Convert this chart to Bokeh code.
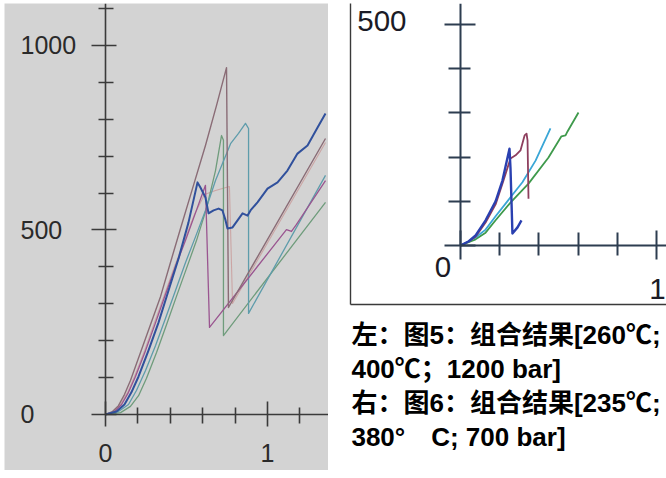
from bokeh.plotting import figure
from bokeh.models import LinearAxis, FixedTicker, Range1d, Spacer
from bokeh.layouts import column, row
from bokeh.embed import file_html
from bokeh.resources import INLINE
from bokeh.core.properties import value

# ---------------- data: left chart (Fig. 5) ----------------
L_mauve_x = [0, 0.043, 0.080, 0.117, 0.154, 0.216, 0.278, 0.340, 0.401, 0.463, 0.537, 0.617, 0.685, 0.747, 0.759, 1.358]
L_mauve_y = [0, 8, 24, 54, 92, 168, 244, 320, 412, 504, 612, 729, 837, 940, 290, 748]

L_salmon_x = [0, 0.049, 0.093, 0.136, 0.179, 0.241, 0.302, 0.364, 0.426, 0.488, 0.549, 0.611, 0.679, 0.765, 0.784, 1.358]
L_salmon_y = [0, 8, 27, 60, 103, 173, 249, 325, 401, 472, 542, 596, 607, 618, 301, 737]

L_magenta_x = [0, 0.056, 0.099, 0.142, 0.185, 0.247, 0.309, 0.370, 0.432, 0.494, 0.556, 0.617, 0.642, 1.117, 1.148, 1.179, 1.358]
L_magenta_y = [0, 8, 27, 60, 103, 173, 249, 325, 401, 472, 547, 621, 236, 501, 496, 515, 634]

L_blue_x = [0, 0.068, 0.117, 0.160, 0.204, 0.265, 0.327, 0.389, 0.451, 0.512, 0.568, 0.586, 0.617, 0.636,
            0.667, 0.698, 0.722, 0.741, 0.753, 0.784, 0.815, 0.846, 0.877, 0.895, 0.938, 1.000, 1.062,
            1.123, 1.185, 1.247, 1.309, 1.358]
L_blue_y = [0, 8, 27, 60, 103, 173, 249, 336, 423, 520, 629, 615, 588, 545,
            553, 558, 553, 526, 504, 507, 526, 545, 539, 553, 575, 612, 629,
            661, 707, 729, 778, 816]

L_teal_x = [0, 0.080, 0.142, 0.191, 0.247, 0.309, 0.370, 0.432, 0.494, 0.556, 0.617, 0.679, 0.772, 0.821, 0.864, 0.883, 0.883, 1.358]
L_teal_y = [0, 8, 27, 65, 119, 187, 260, 336, 412, 482, 553, 634, 734, 762, 789, 775, 274, 648]

L_green_x = [0, 0.093, 0.154, 0.204, 0.253, 0.315, 0.377, 0.438, 0.500, 0.562, 0.623, 0.679, 0.716, 0.728, 0.728, 1.358]
L_green_y = [0, 5, 22, 51, 98, 168, 244, 320, 396, 472, 558, 661, 756, 743, 214, 575]

L_xticks_major = [0, 1]
L_xticks_minor = [0.2, 0.4, 0.6, 0.8, 1.2]
L_xtick_labels = ["0", "1"]
L_yticks_major = [0, 500, 1000]
L_yticks_minor = [100, 200, 300, 400, 600, 700, 800, 900, 1100]
L_ytick_labels = ["0", "500", "1000"]

# ---------------- data: right chart (Fig. 6) ----------------
R_blue_x = [0, 0.041, 0.077, 0.128, 0.179, 0.214, 0.240, 0.250, 0.255, 0.260, 0.265, 0.291, 0.311]
R_blue_y = [0, 9, 23, 57, 100, 147, 199, 219, 176, 102, 27, 41, 57]

R_mauve_x = [0, 0.041, 0.077, 0.128, 0.179, 0.214, 0.255, 0.281, 0.306, 0.327, 0.337, 0.342, 0.347]
R_mauve_y = [0, 9, 20, 52, 93, 140, 197, 204, 215, 249, 253, 238, 106]

R_cyan_x = [0, 0.077, 0.128, 0.179, 0.255, 0.316, 0.383, 0.459]
R_cyan_y = [0, 18, 36, 66, 109, 143, 192, 265]

R_green_x = [0, 0.077, 0.128, 0.179, 0.255, 0.347, 0.449, 0.515, 0.536, 0.546, 0.602]
R_green_y = [0, 14, 29, 57, 97, 140, 199, 247, 249, 258, 301]

R_xticks_major = [0, 1]
R_xticks_minor = [0.2, 0.4, 0.6, 0.8]
R_yticks_major = [0, 500]
R_yticks_minor = [100, 200, 300, 400]
R_origin_label = "0"
R_ytick_label = "500"
R_xtick_label = "1"

caption_lines = [
    "左：图5：组合结果[260℃;",
    "400℃；1200 bar]",
    "右：图6：组合结果[235℃;",
    "380°\u3000C; 700 bar]",
]

LATIN = "Liberation Sans"
CAPTION_FONT = "Liberation Sans, Noto Sans CJK SC"


def add_center_axes(p, xend, yend, xt, xmt, yt, ymt, color, lw,
                    x_in, x_out, xm_in, xm_out, y_in, y_out, ym_in, ym_out):
    xa = LinearAxis(fixed_location=0, bounds=(0, xend),
                    ticker=FixedTicker(ticks=xt, minor_ticks=xmt))
    ya = LinearAxis(fixed_location=0, bounds=(0, yend),
                    ticker=FixedTicker(ticks=yt, minor_ticks=ymt))
    for a, (ti, to, mi, mo) in ((xa, (x_in, x_out, xm_in, xm_out)),
                                (ya, (y_in, y_out, ym_in, ym_out))):
        a.axis_line_color = color
        a.axis_line_width = lw
        a.major_tick_line_color = color
        a.major_tick_line_width = lw
        a.minor_tick_line_color = color
        a.minor_tick_line_width = lw
        a.major_tick_in = ti
        a.major_tick_out = to
        a.minor_tick_in = mi
        a.minor_tick_out = mo
        a.major_label_text_color = None
        a.major_label_standoff = 0
    p.add_layout(xa, "below")
    p.add_layout(ya, "left")


# ---------------- top strip ----------------
strip = figure(width=666, height=3, output_backend="svg", toolbar_location=None,
               x_axis_location=None, y_axis_location=None, min_border=0,
               background_fill_color="#2c5a88", border_fill_color="#2c5a88",
               outline_line_color=None)
strip.grid.visible = False

# ---------------- left figure ----------------
L_XEND, L_YEND = 1.3765, 1113.8
pL = figure(width=324, height=467, output_backend="svg", toolbar_location=None,
            x_range=Range1d(-0.6235, L_XEND), y_range=Range1d(-151.8, L_YEND),
            x_axis_location=None, y_axis_location=None, min_border=0,
            background_fill_color="#d3d3d3", border_fill_color="#d3d3d3",
            outline_line_color=None)
pL.grid.visible = False
add_center_axes(pL, L_XEND, L_YEND, L_xticks_major, L_xticks_minor,
                L_yticks_major, L_yticks_minor, "#3a3a3a", 1.6,
                13, 12, 7, 9, 11, 14, 8, 7)

pL.line(L_salmon_x, L_salmon_y, line_color="#c99a98", line_width=1.1, line_alpha=0.8, line_join="round")
pL.line(L_green_x, L_green_y, line_color="#6f9c7c", line_width=1.3, line_join="round")
pL.line(L_teal_x, L_teal_y, line_color="#5e9cab", line_width=1.3, line_join="round")
pL.line(L_magenta_x, L_magenta_y, line_color="#9a5590", line_width=1.3, line_join="round")
pL.line(L_mauve_x, L_mauve_y, line_color="#8a6c76", line_width=1.4, line_join="round")
pL.line(L_blue_x, L_blue_y, line_color="#30509c", line_width=2.0, line_join="round")

pL.text(x=[0] * len(L_yticks_major), y=L_yticks_major, text=L_ytick_labels,
        x_offset=-85, text_align="left", text_baseline="middle",
        text_font=value(LATIN), text_font_size="25px", text_color="#2a2a2a")
pL.text(x=L_xticks_major, y=[0] * len(L_xticks_major), text=L_xtick_labels,
        y_offset=38.5, text_align="center", text_baseline="middle",
        text_font=value(LATIN), text_font_size="25px", text_color="#2a2a2a")

# ---------------- right figure ----------------
R_XEND, R_YEND = 1.051, 547.5
pR = figure(width=338, height=303, output_backend="svg", toolbar_location=None,
            x_range=Range1d(-0.5612, R_XEND), y_range=Range1d(-133.5, R_YEND),
            min_border_left=22, min_border_right=0, min_border_top=0, min_border_bottom=2,
            background_fill_color="white", border_fill_color="white",
            outline_line_color=None)
pR.grid.visible = False
for box_axis in (pR.xaxis[0], pR.yaxis[0]):
    box_axis.ticker = FixedTicker(ticks=[])
    box_axis.axis_line_color = "#3a3a3a"
    box_axis.axis_line_width = 1.4
    box_axis.major_tick_in = 0
    box_axis.major_tick_out = 0
    box_axis.minor_tick_in = 0
    box_axis.minor_tick_out = 0
    box_axis.major_label_text_color = None
    box_axis.major_label_standoff = 0

add_center_axes(pR, R_XEND, R_YEND, R_xticks_major, R_xticks_minor,
                R_yticks_major, R_yticks_minor, "#2d3d50", 2.0,
                15, 14, 13, 10, 15, 16, 10, 12)

pR.line(R_green_x, R_green_y, line_color="#3f9a4c", line_width=1.8, line_join="round")
pR.line(R_cyan_x, R_cyan_y, line_color="#3aa6d6", line_width=1.8, line_join="round")
pR.line(R_mauve_x, R_mauve_y, line_color="#8e3f5e", line_width=1.8, line_join="round")
pR.line(R_blue_x, R_blue_y, line_color="#2a40b0", line_width=2.4, line_join="round")

pR.text(x=[0], y=[500], text=[R_ytick_label], x_offset=-54, y_offset=-3,
        text_align="right", text_baseline="middle",
        text_font=value(LATIN), text_font_size="29.5px", text_color="#1b1b26")
pR.text(x=[0], y=[0], text=[R_origin_label], x_offset=-17.5, y_offset=22,
        text_align="center", text_baseline="middle",
        text_font=value(LATIN), text_font_size="29.5px", text_color="#1b1b26")
pR.text(x=[1], y=[0], text=[R_xtick_label], x_offset=1, y_offset=43.5,
        text_align="center", text_baseline="middle",
        text_font=value(LATIN), text_font_size="29.5px", text_color="#1b1b26")

# ---------------- caption ----------------
CAP_W, CAP_H = 338, 169
pC = figure(width=CAP_W, height=CAP_H, output_backend="svg", toolbar_location=None,
            x_range=Range1d(0, CAP_W), y_range=Range1d(CAP_H, 0),
            x_axis_location=None, y_axis_location=None, min_border=0,
            background_fill_color="white", border_fill_color="white",
            outline_line_color=None)
pC.grid.visible = False
cap_top, cap_step, cap_left = 28.0, 34.0, 1.0
pC.text(x=[cap_left] * len(caption_lines),
        y=[cap_top + i * cap_step for i in range(len(caption_lines))],
        text=caption_lines, text_align="left", text_baseline="middle",
        text_font=value(CAPTION_FONT), text_font_style="bold",
        text_font_size="26px", text_color="#000000")

left_pad = Spacer(width=4, height=467)
layout = column(strip, row(left_pad, pL, column(pR, pC)))

open("out.html", "w").write(file_html(layout, INLINE))
